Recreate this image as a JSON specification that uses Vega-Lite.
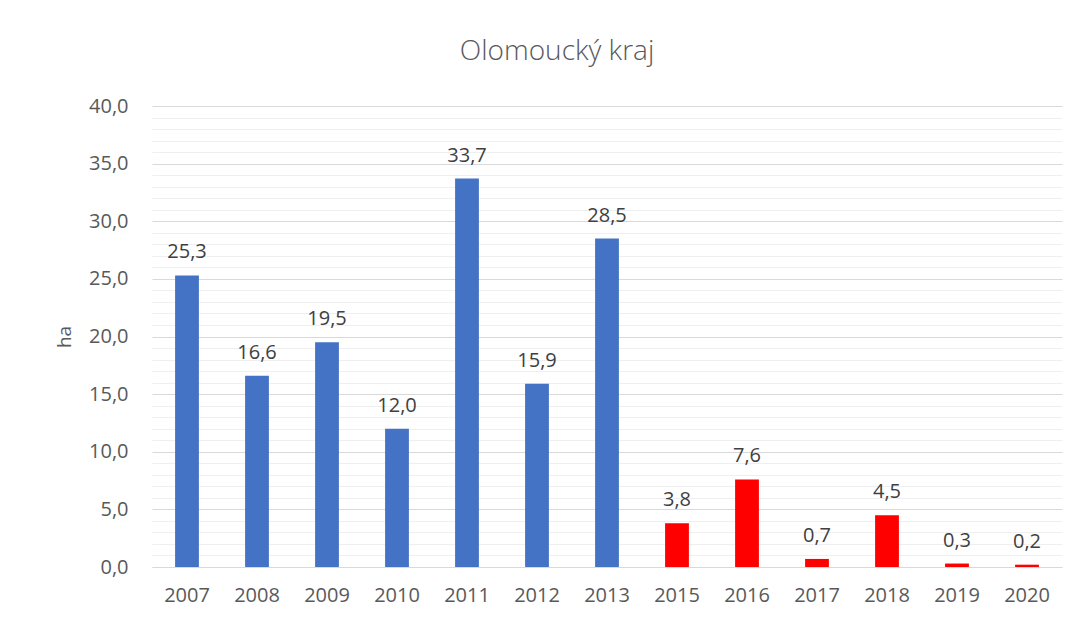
{
  "$schema": "https://vega.github.io/schema/vega-lite/v6.json",
  "autosize": {"type": "none"},
  "width": 910,
  "height": 461,
  "padding": {"left": 152, "top": 106, "right": 29, "bottom": 54},
  "background": "white",
  "title": {
    "text": "Olomoucký kraj",
    "anchor": "middle",
    "frame": "group",
    "dx": -50,
    "offset": 30,
    "font": "Open Sans",
    "fontSize": 28,
    "fontWeight": 300,
    "color": "#595959"
  },
  "config": {
    "locale": {"number": {"decimal": ",", "thousands": " ", "grouping": [3], "currency": ["", " Kč"]}},
    "view": {"stroke": null},
    "font": "Open Sans"
  },
  "data": {
    "values": [
      {"year": "2007", "value": 25.3, "period": "a"},
      {"year": "2008", "value": 16.6, "period": "a"},
      {"year": "2009", "value": 19.5, "period": "a"},
      {"year": "2010", "value": 12.0, "period": "a"},
      {"year": "2011", "value": 33.7, "period": "a"},
      {"year": "2012", "value": 15.9, "period": "a"},
      {"year": "2013", "value": 28.5, "period": "a"},
      {"year": "2015", "value": 3.8, "period": "b"},
      {"year": "2016", "value": 7.6, "period": "b"},
      {"year": "2017", "value": 0.7, "period": "b"},
      {"year": "2018", "value": 4.5, "period": "b"},
      {"year": "2019", "value": 0.3, "period": "b"},
      {"year": "2020", "value": 0.2, "period": "b"}
    ]
  },
  "encoding": {
    "x": {
      "field": "year",
      "type": "nominal",
      "sort": null,
      "scale": {"paddingInner": 0.66, "paddingOuter": 0.33},
      "axis": {
        "title": null,
        "labelAngle": 0,
        "labelFont": "Open Sans",
        "labelFontSize": 20,
        "labelColor": "#595959",
        "labelPadding": 18,
        "ticks": false,
        "domainColor": "#D9D9D9",
        "domainWidth": 1
      }
    },
    "y": {
      "field": "value",
      "type": "quantitative",
      "scale": {"domain": [0, 40], "nice": false},
      "axis": {
        "title": "ha",
        "titleFont": "Open Sans",
        "titleFontSize": 19,
        "titleFontWeight": "normal",
        "titleColor": "#595959",
        "titlePadding": 14,
        "values": [0,1,2,3,4,5,6,7,8,9,10,11,12,13,14,15,16,17,18,19,20,21,22,23,24,25,26,27,28,29,30,31,32,33,34,35,36,37,38,39,40],
        "format": ".1f",
        "labelExpr": "datum.value % 5 === 0 ? datum.label : ''",
        "labelFont": "Open Sans",
        "labelFontSize": 20,
        "labelColor": "#595959",
        "labelPadding": 24,
        "ticks": false,
        "domain": false,
        "grid": true,
        "gridColor": {"condition": {"test": "datum.value % 5 === 0", "value": "#D9D9D9"}, "value": "#EFEFEF"},
        "gridWidth": 1
      }
    }
  },
  "layer": [
    {
      "mark": {"type": "bar"},
      "encoding": {
        "color": {
          "field": "period",
          "type": "nominal",
          "scale": {"domain": ["a", "b"], "range": ["#4472C4", "#FF0000"]},
          "legend": null
        }
      }
    },
    {
      "mark": {"type": "text", "baseline": "alphabetic", "dy": -17, "font": "Open Sans", "fontSize": 20, "color": "#404040"},
      "encoding": {
        "text": {"field": "value", "type": "quantitative", "format": ".1f"}
      }
    }
  ]
}
